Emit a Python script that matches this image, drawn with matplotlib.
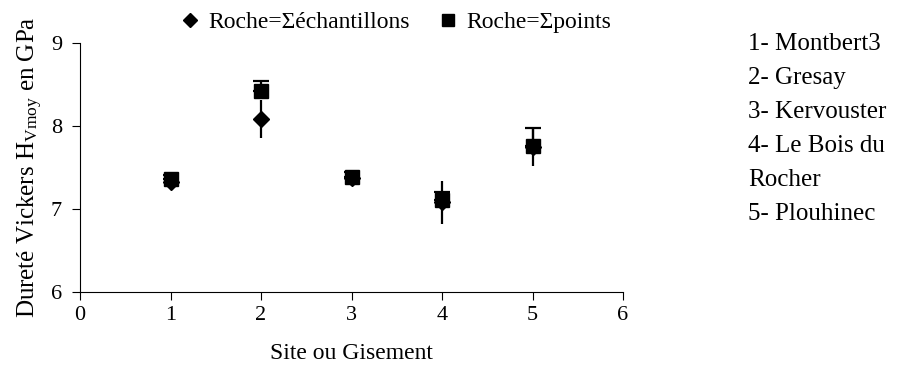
import numpy as np
import matplotlib
matplotlib.use("Agg")
import matplotlib.pyplot as plt

# -----------------------------------------------------
# DATA
# -----------------------------------------------------

sites = [1, 2, 3, 4, 5]
site_names = ["1- Montbert3", "2- Gresay", "3- Kervouster", "4- Le Bois du", "Rocher", "5- Plouhinec"]

hv_echantillons = [7.33, 8.08, 7.37, 7.08, 7.75]
err_echantillons = [0.05, 0.23, 0.09, 0.26, 0.23]

hv_points = [7.36, 8.42, 7.39, 7.11, 7.76]
err_points_plus = [0.05, 0.12, 0.06, 0.10, 0.22]

# -----------------------------------------------------
# STYLE
# -----------------------------------------------------

plt.rcParams["font.family"] = ["Liberation Serif", "DejaVu Serif"]
plt.rcParams["mathtext.fontset"] = "custom"
plt.rcParams["mathtext.rm"] = "Liberation Serif"
plt.rcParams["mathtext.it"] = "Liberation Serif:italic"

fig = plt.figure(figsize=(8.97, 3.87), dpi=100)
ax = fig.add_axes([80 / 897, 1 - 292 / 387, (623 - 80) / 897, (292 - 43) / 387])

# -----------------------------------------------------
# ERROR BARS + MARKERS
# -----------------------------------------------------

ax.errorbar(sites, hv_echantillons, yerr=err_echantillons, fmt="none",
            ecolor="black", elinewidth=1.6, capsize=0, zorder=2)
ax.errorbar(sites, hv_points, yerr=[np.zeros(len(sites)), err_points_plus], fmt="none",
            ecolor="black", elinewidth=1.6, capsize=5.8, capthick=1.6, zorder=2)

ax.plot(sites, hv_echantillons, linestyle="none", marker="D", markersize=8,
        color="black", zorder=3, label="Roche=Σéchantillons")
ax.plot(sites, hv_points, linestyle="none", marker="s", markersize=9.5,
        color="black", zorder=4, label="Roche=Σpoints")

# -----------------------------------------------------
# AXES
# -----------------------------------------------------

ax.set_xlim(0, 6)
ax.set_ylim(6, 9)
ax.set_xticks(range(0, 7))
ax.set_yticks([6, 7, 8, 9])
ax.tick_params(direction="out", length=6, width=0.8, labelsize=16, colors="black")
ax.tick_params(axis="x", pad=4)
ax.tick_params(axis="y", pad=7)
ax.spines["top"].set_visible(False)
ax.spines["right"].set_visible(False)

ax.set_xlabel("Site ou Gisement", fontsize=17, labelpad=13)
ax.set_ylabel("Dureté Vickers H$_{\\mathrm{Vmoy}}$ en GPa", fontsize=18, labelpad=4)

leg = fig.legend(loc="center", bbox_to_anchor=(397 / 897, 1 - 22 / 387), ncol=2,
                 frameon=False, fontsize=17, handlelength=0.6, handletextpad=0.5,
                 columnspacing=1.3, borderpad=0, markerscale=0.85)

# site names on the right
fig.text(748 / 897, 1 - 33 / 387, "\n".join(site_names), fontsize=18,
         va="top", ha="left", linespacing=1.7)

fig.savefig("out.png", dpi=100)
